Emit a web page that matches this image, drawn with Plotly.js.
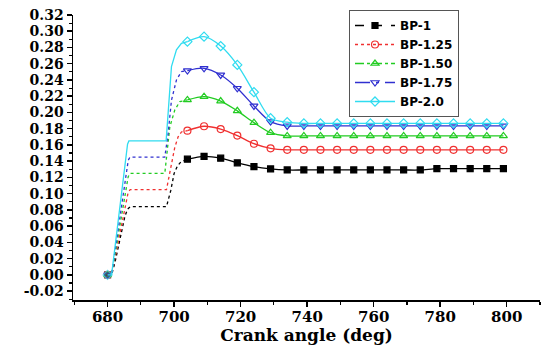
<!DOCTYPE html>
<html>
<head>
<meta charset="utf-8">
<script src="https://cdn.plot.ly/plotly-3.0.1.min.js"></script>
<style>
  html, body { margin: 0; padding: 0; background: #fff; }
  #chart { width: 541px; height: 353px; }
</style>
</head>
<body>
<div id="chart"></div>
<script>
// Series names
const seriesNames = ['BP-1', 'BP-1.25', 'BP-1.50', 'BP-1.75', 'BP-2.0'];

// Start-up segment (crank angle, deg) for each series: first point carries a marker
const leadX_bp1   = [680, 681.2, 682.2, 683.7, 685.2, 686.0, 686.8, 697.7, 699.0, 700.0, 701.0, 702.0, 704];
const leadY_bp1   = [0, 0, 0.015, 0.043, 0.072, 0.081, 0.084, 0.084, 0.104, 0.125, 0.134, 0.139, 0.1425];
const leadX_bp125 = [680, 681.2, 686.2, 686.8, 697.7, 699.2, 700.2, 701.2, 702.2, 704];
const leadY_bp125 = [0, 0, 0.102, 0.105, 0.105, 0.1375, 0.157, 0.170, 0.176, 0.1776];
const leadX_bp150 = [680, 681.2, 686.2, 686.7, 697.2, 698.0, 698.7, 700.2, 701.7, 704];
const leadY_bp150 = [0, 0, 0.121, 0.125, 0.125, 0.160, 0.182, 0.203, 0.2133, 0.2154];
const leadX_bp175 = [680, 681.2, 686.2, 686.7, 697.2, 698.2, 699.2, 700.7, 702.2, 704];
const leadY_bp175 = [0, 0, 0.141, 0.145, 0.145, 0.174, 0.215, 0.240, 0.2503, 0.2515];
const leadX_bp20  = [680, 681.2, 686.0, 686.4, 697.6, 698.2, 699.2, 700.7, 702.2, 704];
const leadY_bp20  = [0, 0, 0.161, 0.165, 0.165, 0.203, 0.2564, 0.277, 0.285, 0.2872];

// Marked points (every 5 deg) after the peak region
const markX = [704, 709, 714, 719, 724, 729, 734, 739, 744, 749, 754, 759, 764, 769, 774, 779, 784, 789, 794, 799];
const markY_bp1   = [0.1425, 0.1460, 0.1437, 0.1380, 0.1333, 0.1305, 0.1292, 0.1292, 0.1292, 0.1292, 0.1292, 0.1292, 0.1292, 0.1292, 0.1292, 0.1308, 0.1308, 0.1308, 0.1308, 0.1308];
const markY_bp125 = [0.1776, 0.1830, 0.1795, 0.1715, 0.1615, 0.1559, 0.1540, 0.1540, 0.1540, 0.1540, 0.1540, 0.1540, 0.1540, 0.1540, 0.1540, 0.1540, 0.1540, 0.1540, 0.1540, 0.1540];
const markY_bp150 = [0.2154, 0.2195, 0.2140, 0.2020, 0.1875, 0.1751, 0.1711, 0.1711, 0.1711, 0.1711, 0.1711, 0.1711, 0.1711, 0.1711, 0.1711, 0.1711, 0.1711, 0.1711, 0.1711, 0.1711];
const markY_bp175 = [0.2515, 0.2544, 0.2462, 0.2298, 0.2080, 0.1887, 0.1834, 0.1834, 0.1834, 0.1834, 0.1834, 0.1834, 0.1834, 0.1834, 0.1834, 0.1834, 0.1834, 0.1834, 0.1834, 0.1834];
const markY_bp20  = [0.2872, 0.2933, 0.2818, 0.2585, 0.2250, 0.1929, 0.1880, 0.1865, 0.1865, 0.1865, 0.1865, 0.1865, 0.1865, 0.1865, 0.1865, 0.1865, 0.1865, 0.1865, 0.1865, 0.1865];

// Axis ticks
const xTicks = [680, 700, 720, 740, 760, 780, 800];
const yTicks = [-0.02, 0.00, 0.02, 0.04, 0.06, 0.08, 0.10, 0.12, 0.14, 0.16, 0.18, 0.20, 0.22, 0.24, 0.26, 0.28, 0.30, 0.32];

const leadX = [leadX_bp1, leadX_bp125, leadX_bp150, leadX_bp175, leadX_bp20];
const leadY = [leadY_bp1, leadY_bp125, leadY_bp150, leadY_bp175, leadY_bp20];
const markY = [markY_bp1, markY_bp125, markY_bp150, markY_bp175, markY_bp20];

const styles = [
  { color: '#000000', symbol: 'square',             size: 6, dash: 'dash' },
  { color: '#f03030', symbol: 'circle-open',        size: 7, dash: 'dot' },
  { color: '#22cc22', symbol: 'triangle-up-open',   size: 7, dash: 'dashdot' },
  { color: '#3030d0', symbol: 'triangle-down-open', size: 7, dash: 'longdashdot' },
  { color: '#30dcf0', symbol: 'diamond-open',       size: 7, dash: 'solid' }
];

const traces = [];
seriesNames.forEach((name, i) => {
  const st = styles[i];
  const mk = { color: st.color, symbol: st.symbol, line: { color: st.color, width: 1.2 } };
  // start-up segment, marker only on the first point
  traces.push({
    type: 'scatter', mode: 'lines+markers', showlegend: false, hoverinfo: 'skip',
    x: leadX[i], y: leadY[i],
    line: { color: st.color, width: 1.3, dash: i === 4 ? 'solid' : 'dot' },
    marker: Object.assign({}, mk, { size: leadX[i].map((v, k) => k === 0 ? st.size : 0) })
  });
  // smooth marked section
  traces.push({
    type: 'scatter', mode: 'lines+markers', showlegend: false,
    x: markX, y: markY[i],
    line: { color: st.color, width: 1.3, shape: 'spline', smoothing: 0.8 },
    marker: Object.assign({}, mk, { size: st.size })
  });
  // legend entry
  traces.push({
    type: 'scatter', mode: 'lines+markers', name: name,
    x: [null], y: [null],
    line: { color: st.color, width: 1.3, dash: st.dash },
    marker: Object.assign({}, mk, { size: st.size })
  });
});

const tickFont = { family: 'DejaVu Serif', size: 14, color: '#000', weight: 'bold' };

const layout = {
  width: 541, height: 353,
  margin: { l: 73, r: 1, t: 15, b: 53, pad: 0 },
  paper_bgcolor: '#fff', plot_bgcolor: '#fff',
  showlegend: true,
  legend: {
    x: 0.591, y: 1.0175, xanchor: 'left', yanchor: 'top',
    bgcolor: '#fff', bordercolor: '#555', borderwidth: 1,
    font: { family: 'DejaVu Sans', size: 12, color: '#000', weight: 'bold' },
    tracegroupgap: 0, itemwidth: 40
  },
  xaxis: {
    range: [669.6, 810],
    tickmode: 'array', tickvals: xTicks, ticktext: xTicks.map(String),
    ticks: 'outside', ticklen: 5, tickwidth: 1.5, tickcolor: '#000',
    ticklabelstandoff: -3,
    minor: { dtick: 10, tick0: 670, ticks: 'outside', ticklen: 3, tickwidth: 1.2, tickcolor: '#000' },
    showline: true, linecolor: '#000', linewidth: 1.5,
    showgrid: false, zeroline: false,
    tickfont: { family: 'DejaVu Serif', size: 15, color: '#000', weight: 'bold' },
    title: { text: 'Crank angle (deg)', font: { family: 'DejaVu Serif', size: 17, color: '#000', weight: 'bold' }, standoff: 4 }
  },
  yaxis: {
    range: [-0.0309, 0.32],
    tickmode: 'array', tickvals: yTicks, ticktext: yTicks.map(v => v.toFixed(2)),
    ticks: 'outside', ticklen: 5, tickwidth: 1.5, tickcolor: '#000',
    minor: { dtick: 0.01, tick0: 0, ticks: 'outside', ticklen: 3, tickwidth: 1.2, tickcolor: '#000' },
    showline: true, linecolor: '#000', linewidth: 1.5,
    showgrid: false, zeroline: false,
    tickfont: tickFont
  }
};

Plotly.newPlot('chart', traces, layout, { staticPlot: true, displayModeBar: false });
</script>
</body>
</html>
